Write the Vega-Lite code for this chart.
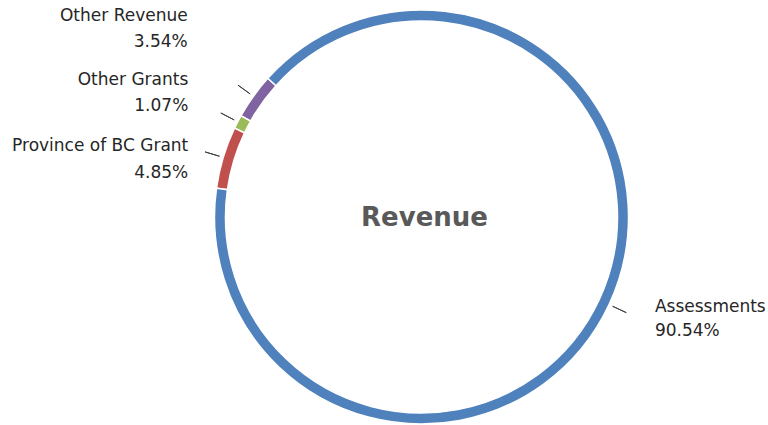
{
  "$schema": "https://vega.github.io/schema/vega-lite/v6.json",
  "width": 693,
  "height": 416,
  "padding": {"left": 75, "top": 9, "right": 0, "bottom": 0},
  "autosize": {"type": "none"},
  "background": "white",
  "config": {"view": {"stroke": null}, "font": "DejaVu Sans"},
  "data": {
    "values": [
      {"category": "Province of BC Grant", "value": 4.85, "k": 1},
      {"category": "Other Grants", "value": 1.07, "k": 2},
      {"category": "Other Revenue", "value": 3.54, "k": 3},
      {"category": "Assessments", "value": 90.54, "k": 4}
    ]
  },
  "transform": [
    {"stack": "value", "groupby": [], "sort": [{"field": "k", "order": "ascending"}], "as": ["v0", "v1"]},
    {"calculate": "(datum.v0 + datum.v1) / 2", "as": "mid"},
    {"calculate": "datum.category + '\\n' + format(datum.value, '.2f') + '%'", "as": "label"}
  ],
  "layer": [
    {
      "mark": {"type": "arc", "outerRadius": 207, "innerRadius": 196, "stroke": "white", "strokeWidth": 1.5},
      "encoding": {
        "theta": {"field": "v0", "type": "quantitative", "scale": {"domain": [0, 100], "range": [-1.431, 4.852]}},
        "theta2": {"field": "v1"},
        "color": {
          "field": "category",
          "type": "nominal",
          "scale": {
            "domain": ["Assessments", "Province of BC Grant", "Other Grants", "Other Revenue"],
            "range": ["#4F81BD", "#C0504D", "#9BBB59", "#8064A2"]
          },
          "legend": null
        }
      }
    },
    {
      "mark": {"type": "arc", "outerRadius": 226, "innerRadius": 211, "stroke": "#404040", "strokeWidth": 1, "fill": null, "fillOpacity": 0},
      "encoding": {
        "theta": {"field": "mid", "type": "quantitative", "scale": {"domain": [0, 100], "range": [-1.431, 4.852]}},
        "theta2": {"field": "mid"}
      }
    },
    {
      "transform": [{"filter": "datum.category == 'Province of BC Grant'"}],
      "mark": {"type": "text", "radius": 230, "align": "right", "baseline": "middle", "dx": -13, "dy": -4.5, "lineBreak": "\n", "lineHeight": 27, "fontSize": 17, "color": "#262626"},
      "encoding": {
        "theta": {"field": "mid", "type": "quantitative", "scale": {"domain": [0, 100], "range": [-1.431, 4.852]}},
        "text": {"field": "label"}
      }
    },
    {
      "transform": [{"filter": "datum.category == 'Other Grants'"}],
      "mark": {"type": "text", "radius": 230, "align": "right", "baseline": "middle", "dx": -29, "dy": -31.5, "lineBreak": "\n", "lineHeight": 26, "fontSize": 17, "color": "#262626"},
      "encoding": {
        "theta": {"field": "mid", "type": "quantitative", "scale": {"domain": [0, 100], "range": [-1.431, 4.852]}},
        "text": {"field": "label"}
      }
    },
    {
      "transform": [{"filter": "datum.category == 'Other Revenue'"}],
      "mark": {"type": "text", "radius": 230, "align": "right", "baseline": "middle", "dx": -47, "dy": -66.5, "lineBreak": "\n", "lineHeight": 26, "fontSize": 17, "color": "#262626"},
      "encoding": {
        "theta": {"field": "mid", "type": "quantitative", "scale": {"domain": [0, 100], "range": [-1.431, 4.852]}},
        "text": {"field": "label"}
      }
    },
    {
      "transform": [{"filter": "datum.category == 'Assessments'"}],
      "mark": {"type": "text", "radius": 230, "align": "left", "baseline": "middle", "dx": 25, "dy": -7, "lineBreak": "\n", "lineHeight": 24, "fontSize": 17, "color": "#262626"},
      "encoding": {
        "theta": {"field": "mid", "type": "quantitative", "scale": {"domain": [0, 100], "range": [-1.431, 4.852]}},
        "text": {"field": "label"}
      }
    },
    {
      "data": {"values": [{"t": "Revenue"}]},
      "mark": {"type": "text", "fontSize": 26, "fontWeight": "bold", "color": "#595959", "dx": 3, "dy": 1, "baseline": "middle", "align": "center"},
      "encoding": {"text": {"field": "t"}}
    }
  ]
}
